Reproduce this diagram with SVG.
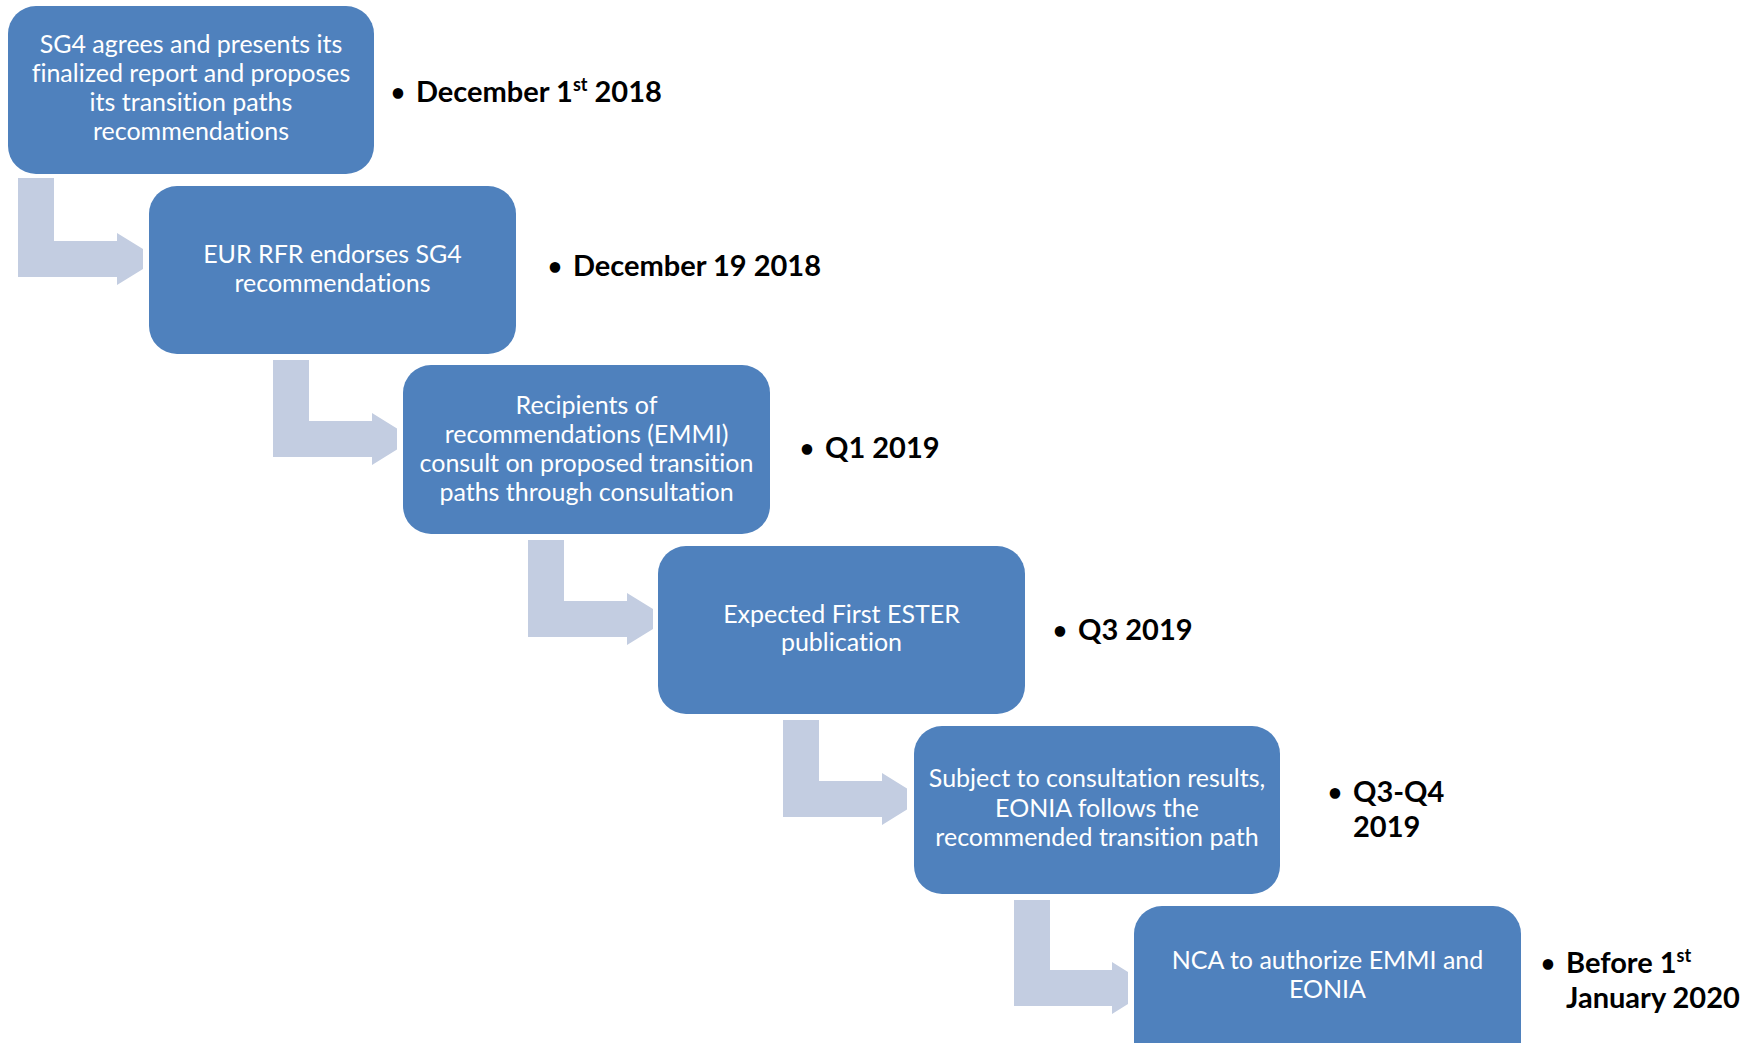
<svg xmlns="http://www.w3.org/2000/svg" width="1757" height="1043" viewBox="0 0 1757 1043">
<style>
text{font-variant-ligatures:none;font-feature-settings:"liga" 0,"dlig" 0;}
.box{fill:#4F81BD;}
.arr{fill:#C3CDE1;}
.bt{font-family:Lato,"Liberation Sans",sans-serif;font-size:25px;fill:#FFFFFF;text-anchor:middle;}
.dt{font-family:Lato,"Liberation Sans",sans-serif;font-size:29px;font-weight:bold;fill:#000000;}
.bul{font-family:Lato,"Liberation Sans",sans-serif;font-size:24px;font-weight:bold;fill:#000000;text-anchor:middle;}
.sup{font-size:18px;}
</style>
<rect width="1757" height="1043" fill="#FFFFFF"/>
<g id="connectors">
<polygon class="arr" points="18,178 54,178 54,241 117,241 117,233 143,249 143,269 117,285 117,277 18,277"/>
<polygon class="arr" points="273,360 309,360 309,421 372,421 372,413 397,428.5 397,449.5 372,465 372,457 273,457"/>
<polygon class="arr" points="528,540 564,540 564,601 627,601 627,593 653,609 653,629 627,645 627,637 528,637"/>
<polygon class="arr" points="783,720 819,720 819,781 882,781 882,773 907,788.5 907,809.5 882,825 882,817 783,817"/>
<polygon class="arr" points="1014,900 1050,900 1050,970 1112,970 1112,962 1128,972 1128,1004 1112,1014 1112,1006 1014,1006"/>
</g>
<g id="node1">
<rect class="box" x="8" y="6" width="366" height="168" rx="28"/>
<text class="bt" x="191" y="53">SG4 agrees and presents its</text>
<text class="bt" x="191" y="82">finalized report and proposes</text>
<text class="bt" x="191" y="111">its transition paths</text>
<text class="bt" x="191" y="140">recommendations</text>
</g>
<g id="node2">
<rect class="box" x="149" y="186" width="367" height="168" rx="28"/>
<text class="bt" x="332.5" y="263">EUR RFR endorses SG4</text>
<text class="bt" x="332.5" y="292">recommendations</text>
</g>
<g id="node3">
<rect class="box" x="403" y="365" width="367" height="169" rx="28"/>
<text class="bt" x="586.5" y="414">Recipients of</text>
<text class="bt" x="586.5" y="443">recommendations (EMMI)</text>
<text class="bt" x="586.5" y="472">consult on proposed transition</text>
<text class="bt" x="586.5" y="501">paths through consultation</text>
</g>
<g id="node4">
<rect class="box" x="658" y="546" width="367" height="168" rx="28"/>
<text class="bt" x="841.5" y="623">Expected First ESTER</text>
<text class="bt" x="841.5" y="651">publication</text>
</g>
<g id="node5">
<rect class="box" x="914" y="726" width="366" height="168" rx="28"/>
<text class="bt" x="1097" y="787">Subject to consultation results,</text>
<text class="bt" x="1097" y="817">EONIA follows the</text>
<text class="bt" x="1097" y="846">recommended transition path</text>
</g>
<g id="node6">
<rect class="box" x="1134" y="906" width="387" height="168" rx="28"/>
<text class="bt" x="1327.5" y="969">NCA to authorize EMMI and</text>
<text class="bt" x="1327.5" y="998">EONIA</text>
</g>
<g id="date1">
<text class="bul" x="398" y="101">•</text>
<text class="dt" x="416" y="102">December 1<tspan class="sup" dy="-11">st</tspan><tspan dy="11"> 2018</tspan></text>
</g>
<g id="date2">
<text class="bul" x="555" y="275">•</text>
<text class="dt" x="573" y="276">December 19 2018</text>
</g>
<g id="date3">
<text class="bul" x="807" y="457">•</text>
<text class="dt" x="825" y="458">Q1 2019</text>
</g>
<g id="date4">
<text class="bul" x="1060" y="639">•</text>
<text class="dt" x="1078" y="640">Q3 2019</text>
</g>
<g id="date5">
<text class="bul" x="1335" y="801">•</text>
<text class="dt" x="1353" y="802">Q3-Q4</text>
<text class="dt" x="1353" y="837">2019</text>
</g>
<g id="date6">
<text class="bul" x="1548" y="972">•</text>
<text class="dt" x="1566" y="973">Before 1<tspan class="sup" dy="-11">st</tspan></text>
<text class="dt" x="1566" y="1008">January 2020</text>
</g>
</svg>
